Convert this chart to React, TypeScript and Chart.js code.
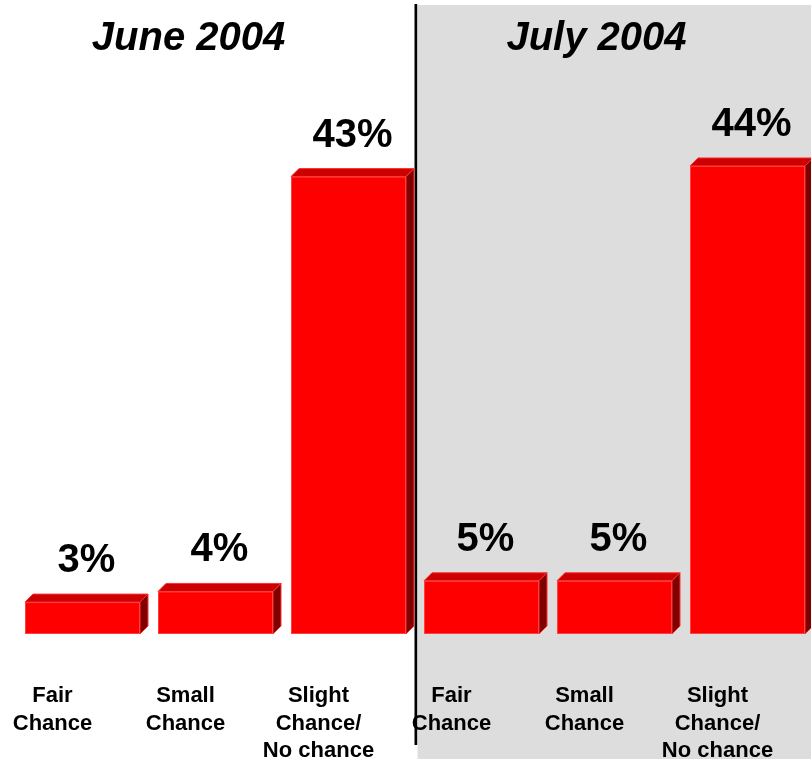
import React, { useEffect, useRef } from "react";
import { Chart, registerables } from "chart.js";

Chart.register(...registerables);

const periods: string[] = ["June 2004", "July 2004"];
const categoryLines: string[][] = [
  ["Fair", "Chance"],
  ["Small", "Chance"],
  ["Slight", "Chance/", "No chance"],
];
const juneValues: number[] = [3, 4, 43];
const julyValues: number[] = [5, 5, 44];

const FONT = "'Liberation Sans', Arial, Helvetica, sans-serif";

export default function App() {
  const ref = useRef<HTMLCanvasElement | null>(null);

  useEffect(() => {
    const canvas = ref.current;
    if (!canvas) return;
    document.body.style.overflow = "hidden";

    const labels = [...categoryLines, ...categoryLines].map((l) => l.join(" "));
    const lines = [...categoryLines, ...categoryLines];
    const values = [...juneValues, ...julyValues];
    const perGroup = juneValues.length;

    const decor = {
      id: "decor",
      beforeDraw(chart: any) {
        const ctx = chart.ctx;
        const xs = chart.scales.x;
        ctx.save();
        ctx.fillStyle = "#ffffff";
        ctx.fillRect(0, 0, chart.width, chart.height);
        const split =
          (xs.getPixelForValue(perGroup - 1) + xs.getPixelForValue(perGroup)) / 2;
        ctx.fillStyle = "#dddddd";
        ctx.fillRect(split + 2.5, 5, chart.width - split, 754);
        ctx.fillStyle = "#000000";
        ctx.fillRect(split - 0.5, 4, 2.7, 741);
        ctx.restore();
      },
      afterDatasetsDraw(chart: any) {
        const ctx = chart.ctx;
        const meta = chart.getDatasetMeta(0);
        const d = 8;
        ctx.save();
        meta.data.forEach((bar: any, i: number) => {
          const w = bar.width;
          const l = bar.x - w / 2;
          const r = bar.x + w / 2;
          const t = bar.y;
          const b = bar.base;
          // top face
          ctx.beginPath();
          ctx.moveTo(l, t);
          ctx.lineTo(l + d, t - d);
          ctx.lineTo(r + d, t - d);
          ctx.lineTo(r, t);
          ctx.closePath();
          ctx.fillStyle = "#cc0000";
          ctx.fill();
          ctx.strokeStyle = "#ff3030";
          ctx.lineWidth = 1;
          ctx.stroke();
          // side face
          ctx.beginPath();
          ctx.moveTo(r, t);
          ctx.lineTo(r + d, t - d);
          ctx.lineTo(r + d, b - d);
          ctx.lineTo(r, b);
          ctx.closePath();
          ctx.fillStyle = "#800000";
          ctx.fill();
          ctx.strokeStyle = "#ff3030";
          ctx.stroke();
          // front outline
          ctx.strokeStyle = "#ff4040";
          ctx.strokeRect(l + 0.5, t + 0.5, w - 1, b - t - 1);
          // value label
          ctx.fillStyle = "#000000";
          ctx.font = `bold 40px ${FONT}`;
          ctx.textAlign = "center";
          ctx.textBaseline = "alphabetic";
          ctx.fillText(`${values[i]}%`, bar.x + 4, t - 30);
        });
        ctx.restore();
      },
      afterDraw(chart: any) {
        const ctx = chart.ctx;
        const xs = chart.scales.x;
        ctx.save();
        ctx.fillStyle = "#000000";
        ctx.textAlign = "center";
        ctx.textBaseline = "alphabetic";
        ctx.font = `bold 22px ${FONT}`;
        lines.forEach((ls, i) => {
          const cx = xs.getPixelForValue(i) - 30;
          ls.forEach((s, j) => {
            ctx.fillText(s, cx, 702 + j * 27.5);
          });
        });
        ctx.font = `italic bold 40px ${FONT}`;
        const titleX = [xs.getPixelForValue(1) - 27, xs.getPixelForValue(4) - 18];
        periods.forEach((p, k) => {
          ctx.fillText(p, titleX[k], 50);
        });
        ctx.restore();
      },
    };

    const chart = new Chart(canvas, {
      type: "bar",
      data: {
        labels,
        datasets: [
          {
            data: values,
            backgroundColor: "#ff0000",
            borderWidth: 0,
            barPercentage: 115 / 133,
            categoryPercentage: 1,
          },
        ],
      },
      options: {
        responsive: false,
        animation: false,
        devicePixelRatio: 1,
        layout: { padding: { left: 16, right: 6, top: 0, bottom: 131 } },
        plugins: {
          legend: { display: false },
          tooltip: { enabled: false },
          title: { display: false },
        },
        scales: {
          x: { display: false },
          y: { display: false, min: 0, max: 59.6 },
        },
      },
      plugins: [decor],
    });
    return () => chart.destroy();
  }, []);

  return (
    <div
      style={{
        position: "fixed",
        left: 0,
        top: 0,
        width: 811,
        height: 765,
        overflow: "hidden",
        background: "#ffffff",
      }}
    >
      <canvas ref={ref} width={820} height={765} style={{ display: "block" }} />
    </div>
  );
}
